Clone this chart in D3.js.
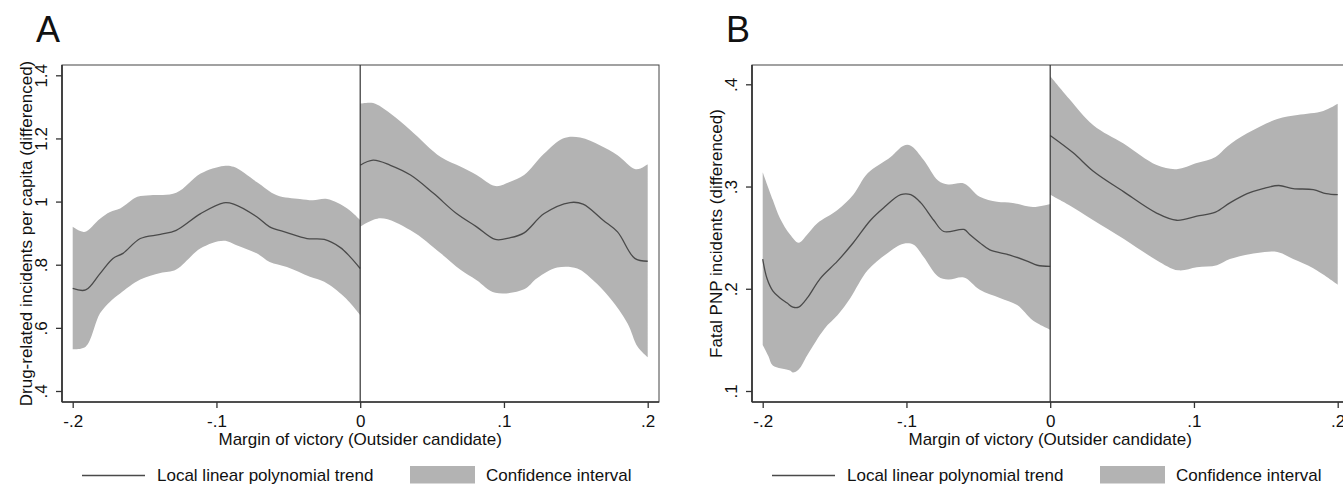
<!DOCTYPE html>
<html><head><meta charset="utf-8">
<script src="https://cdn.jsdelivr.net/npm/d3@7"></script>
<style>body{margin:0;background:#fff;overflow:hidden} text{font-family:"Liberation Sans",Arial,Helvetica,sans-serif;fill:#111}</style>
</head><body><svg id="c" width="1343" height="485"></svg>
<script>
const xTicks = [-0.2,-0.1,0,0.1,0.2];
const xTickLabels = ["-.2","-.1","0",".1",".2"];
const aYTicks = [0.4,0.6,0.8,1,1.2,1.4];
const aYTickLabels = [".4",".6",".8","1","1.2","1.4"];
const bYTicks = [0.1,0.2,0.3,0.4];
const bYTickLabels = [".1",".2",".3",".4"];

// Panel A (drug-related incidents per capita)
const aLeftUpper = [[-0.2,0.920],[-0.192,0.904],[-0.181,0.946],[-0.174,0.967],[-0.167,0.978],[-0.155,1.015],[-0.146,1.020],[-0.128,1.028],[-0.111,1.089],[-0.095,1.113],[-0.088,1.110],[-0.072,1.062],[-0.058,1.020],[-0.042,1.008],[-0.033,1.004],[-0.023,1.008],[-0.009,0.978],[0,0.941]];
const aLeftTrend = [[-0.2,0.725],[-0.191,0.720],[-0.181,0.772],[-0.172,0.820],[-0.165,0.836],[-0.153,0.883],[-0.139,0.896],[-0.128,0.909],[-0.111,0.962],[-0.095,0.996],[-0.088,0.992],[-0.072,0.952],[-0.063,0.920],[-0.051,0.902],[-0.037,0.883],[-0.025,0.880],[-0.014,0.855],[-0.007,0.825],[0,0.788]];
const aLeftLower = [[-0.2,0.532],[-0.191,0.540],[-0.181,0.646],[-0.174,0.683],[-0.167,0.709],[-0.153,0.753],[-0.139,0.774],[-0.128,0.785],[-0.111,0.852],[-0.095,0.876],[-0.086,0.862],[-0.072,0.836],[-0.063,0.809],[-0.051,0.793],[-0.035,0.762],[-0.025,0.746],[-0.011,0.698],[0,0.641]];
const aRightUpper = [[0,1.310],[0.009,1.312],[0.021,1.279],[0.035,1.226],[0.056,1.141],[0.070,1.110],[0.081,1.084],[0.094,1.049],[0.104,1.062],[0.114,1.084],[0.128,1.152],[0.141,1.200],[0.153,1.203],[0.167,1.178],[0.179,1.147],[0.191,1.103],[0.195,1.105],[0.2,1.118]];
const aRightTrend = [[0,1.115],[0.009,1.131],[0.021,1.115],[0.035,1.084],[0.051,1.026],[0.067,0.962],[0.081,0.920],[0.094,0.880],[0.104,0.885],[0.114,0.901],[0.128,0.962],[0.146,0.997],[0.155,0.992],[0.169,0.941],[0.179,0.904],[0.191,0.820],[0.2,0.811]];
const aRightLower = [[0,0.920],[0.014,0.947],[0.035,0.909],[0.056,0.836],[0.070,0.783],[0.081,0.751],[0.094,0.711],[0.114,0.722],[0.123,0.757],[0.137,0.791],[0.151,0.788],[0.162,0.751],[0.174,0.693],[0.186,0.614],[0.193,0.540],[0.2,0.507]];

// Panel B (fatal PNP incidents)
const bLeftUpper = [[-0.2,0.314],[-0.193,0.287],[-0.188,0.269],[-0.181,0.253],[-0.175,0.245],[-0.169,0.253],[-0.162,0.264],[-0.148,0.277],[-0.137,0.292],[-0.127,0.313],[-0.111,0.329],[-0.102,0.340],[-0.097,0.340],[-0.088,0.326],[-0.078,0.306],[-0.071,0.302],[-0.060,0.303],[-0.049,0.290],[-0.037,0.285],[-0.026,0.284],[-0.012,0.280],[0,0.283]];
const bLeftTrend = [[-0.2,0.229],[-0.197,0.210],[-0.193,0.198],[-0.188,0.191],[-0.183,0.186],[-0.179,0.182],[-0.175,0.182],[-0.169,0.191],[-0.160,0.210],[-0.148,0.227],[-0.137,0.245],[-0.125,0.267],[-0.116,0.279],[-0.104,0.292],[-0.097,0.292],[-0.090,0.284],[-0.081,0.267],[-0.074,0.256],[-0.060,0.258],[-0.056,0.253],[-0.049,0.245],[-0.042,0.238],[-0.028,0.233],[-0.016,0.227],[-0.009,0.223],[0,0.222]];
const bLeftLower = [[-0.2,0.145],[-0.196,0.134],[-0.193,0.125],[-0.181,0.120],[-0.179,0.118],[-0.175,0.121],[-0.169,0.135],[-0.157,0.161],[-0.148,0.174],[-0.139,0.191],[-0.127,0.218],[-0.113,0.235],[-0.102,0.244],[-0.095,0.243],[-0.088,0.231],[-0.078,0.212],[-0.071,0.209],[-0.060,0.211],[-0.049,0.199],[-0.035,0.191],[-0.023,0.184],[-0.012,0.169],[0,0.160]];
const bRightUpper = [[0,0.408],[0.013,0.386],[0.030,0.360],[0.051,0.342],[0.074,0.321],[0.088,0.317],[0.102,0.323],[0.115,0.329],[0.123,0.339],[0.137,0.352],[0.158,0.366],[0.172,0.370],[0.190,0.374],[0.2,0.381]];
const bRightTrend = [[0,0.350],[0.016,0.333],[0.030,0.315],[0.051,0.295],[0.074,0.274],[0.088,0.267],[0.102,0.271],[0.115,0.275],[0.125,0.284],[0.137,0.293],[0.148,0.298],[0.159,0.301],[0.169,0.298],[0.183,0.297],[0.192,0.293],[0.2,0.292]];
const bRightLower = [[0,0.292],[0.013,0.282],[0.030,0.267],[0.051,0.249],[0.074,0.228],[0.089,0.218],[0.102,0.221],[0.116,0.223],[0.125,0.229],[0.144,0.235],[0.158,0.236],[0.169,0.229],[0.183,0.220],[0.2,0.204]];

const panels = [
  {letter:"A", dx:0, yTitle:"Drug-related incidents per capita (differenced)",
   yDomain:[0.4,1.4], yTicks:aYTicks, yLabels:aYTickLabels,
   segs:[[aLeftUpper,aLeftTrend,aLeftLower],[aRightUpper,aRightTrend,aRightLower]]},
  {letter:"B", dx:690, yTitle:"Fatal PNP incidents (differenced)",
   yDomain:[0.1,0.4], yTicks:bYTicks, yLabels:bYTickLabels,
   segs:[[bLeftUpper,bLeftTrend,bLeftLower],[bRightUpper,bRightTrend,bRightLower]]}
];

const svg = d3.select("#c");
const BAND = "#b3b3b3", LINE = "#4a4a4a", AX = "#333";
const FS = 17;
const frame = {l:62, t:65, r:659, b:402};

panels.forEach(p => {
  const g = svg.append("g").attr("transform", `translate(${p.dx},0)`);
  const x = d3.scaleLinear().domain([-0.2,0.2]).range([72.7,647.7]);
  const yRange = p.letter === "A" ? [391,75.3] : [391,84.3];
  const y = d3.scaleLinear().domain(p.yDomain).range(yRange);

  const ln = d3.line().x(d=>x(d[0])).y(d=>y(d[1])).curve(d3.curveCatmullRom.alpha(0.5));
  p.segs.forEach(([up,tr,lo]) => {
    const upPath = ln(up);
    const loPath = ln(lo.slice().reverse());
    g.append("path").attr("d", upPath + "L" + loPath.slice(1) + "Z")
      .attr("fill", BAND).attr("stroke", "none");
  });
  p.segs.forEach(([up,tr,lo]) => {
    g.append("path").attr("d", ln(tr)).attr("fill","none")
      .attr("stroke", LINE).attr("stroke-width", 1.3);
  });

  g.append("rect").attr("x",frame.l).attr("y",frame.t)
    .attr("width",frame.r-frame.l).attr("height",frame.b-frame.t)
    .attr("fill","none").attr("stroke","#444").attr("stroke-width",1);
  g.append("line").attr("x1",x(0)).attr("x2",x(0)).attr("y1",frame.t).attr("y2",frame.b)
    .attr("stroke",AX).attr("stroke-width",1.2);

  const yAxis = d3.axisLeft(y).tickValues(p.yTicks)
    .tickFormat((d,i)=>p.yLabels[i]).tickSize(6).tickPadding(0);
  const ya = g.append("g").attr("transform",`translate(${frame.l},0)`).call(yAxis);
  ya.select(".domain").remove();
  ya.selectAll(".tick line").attr("stroke",AX).attr("stroke-width",1.3);
  ya.selectAll(".tick text").attr("font-size",FS).attr("fill","#111")
    .attr("text-anchor","middle").attr("dy",null)
    .attr("transform","translate(-15,0) rotate(-90)").attr("x",0).attr("y",0);
  g.append("line").attr("x1",frame.l).attr("x2",frame.l).attr("y1",frame.t).attr("y2",frame.b)
    .attr("stroke",AX).attr("stroke-width",1.7);

  const xAxis = d3.axisBottom(x).tickValues(xTicks)
    .tickFormat((d,i)=>xTickLabels[i]).tickSize(6).tickPadding(3);
  const xa = g.append("g").attr("transform",`translate(0,${frame.b})`).call(xAxis);
  xa.select(".domain").remove();
  xa.selectAll(".tick line").attr("stroke",AX).attr("stroke-width",1.3);
  xa.selectAll(".tick text").attr("font-size",FS).attr("fill","#111").attr("dy",null).attr("y",25);
  g.append("line").attr("x1",frame.l).attr("x2",frame.r).attr("y1",frame.b).attr("y2",frame.b)
    .attr("stroke",AX).attr("stroke-width",1.7);

  g.append("text").attr("x",36).attr("y",42).attr("font-size",36).text(p.letter);
  g.append("text").attr("transform",`translate(32,${(frame.t+frame.b)/2}) rotate(-90)`)
    .attr("text-anchor","middle").attr("font-size",FS).text(p.yTitle);
  g.append("text").attr("x",x(0)).attr("y",445).attr("text-anchor","middle")
    .attr("font-size",FS).text("Margin of victory (Outsider candidate)");

  g.append("line").attr("x1",82).attr("x2",145).attr("y1",475.5).attr("y2",475.5)
    .attr("stroke",LINE).attr("stroke-width",1.3);
  g.append("text").attr("x",157).attr("y",480.5).attr("font-size",FS).text("Local linear polynomial trend");
  g.append("rect").attr("x",410).attr("y",466).attr("width",65).attr("height",17.5).attr("fill",BAND);
  g.append("text").attr("x",486).attr("y",480.5).attr("font-size",FS).text("Confidence interval");
});
</script></body></html>
